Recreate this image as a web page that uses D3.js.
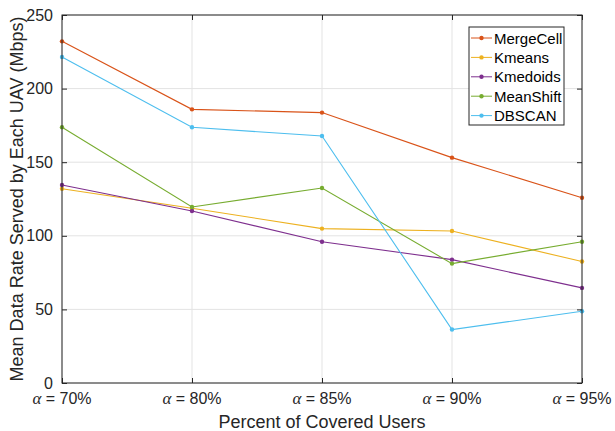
<!DOCTYPE html>
<html><head><meta charset="utf-8">
<script src="https://cdn.jsdelivr.net/npm/d3@7"></script>
<style>body{margin:0;background:#fff;} svg{display:block;}</style>
</head><body>
<svg id="chart" width="615" height="431"></svg>
<script>
const categories = ["70%", "80%", "85%", "90%", "95%"];
const seriesNames = ["MergeCell", "Kmeans", "Kmedoids", "MeanShift", "DBSCAN"];
const mergeCell = [232.1, 185.9, 183.7, 153.1, 125.9];
const kmeans    = [132.0, 118.7, 104.9, 103.3, 82.5];
const kmedoids  = [134.5, 116.8, 96.0, 83.8, 64.6];
const meanShift = [173.7, 119.6, 132.5, 81.1, 96.0];
const dbscan    = [221.5, 173.7, 167.8, 36.3, 48.7];
const yTicks = [0, 50, 100, 150, 200, 250];
const colors = ["#D95319", "#EDB120", "#7E2F8E", "#77AC30", "#4DBEEE"];
const allSeries = [mergeCell, kmeans, kmedoids, meanShift, dbscan];

const svg = d3.select("#chart");
const L = 62, R = 582, T = 15, B = 383;
const x = d3.scalePoint().domain(categories).range([L, R]);
const y = d3.scaleLinear().domain([0, 250]).range([B, T]);
const font = "'Liberation Sans', Arial, Helvetica, sans-serif";
const axisColor = "#262626";

// grid
const g = svg.append("g");
g.selectAll(".gx").data(categories).enter().append("line")
  .attr("x1", d => x(d)).attr("x2", d => x(d)).attr("y1", T).attr("y2", B)
  .attr("stroke", "#e3e3e3").attr("stroke-width", 1);
g.selectAll(".gy").data(yTicks).enter().append("line")
  .attr("x1", L).attr("x2", R).attr("y1", d => y(d)).attr("y2", d => y(d))
  .attr("stroke", "#e3e3e3").attr("stroke-width", 1);

// lines
const line = d3.line().x((d, i) => x(categories[i])).y(d => y(d));
allSeries.forEach((s, k) => {
  svg.append("path").datum(s).attr("d", line).attr("fill", "none")
    .attr("stroke", colors[k]).attr("stroke-width", 1.1);
  svg.selectAll(".p" + k).data(s).enter().append("circle")
    .attr("cx", (d, i) => x(categories[i])).attr("cy", d => y(d)).attr("r", 2.2)
    .attr("fill", colors[k]);
});

// axes via d3
const axB = d3.axisBottom(x).tickSize(-5).tickFormat("");
const axT = d3.axisTop(x).tickSize(-5).tickFormat("");
const axLft = d3.axisLeft(y).tickValues(yTicks).tickSize(-5).tickPadding(9);
const axRgt = d3.axisRight(y).tickValues(yTicks).tickSize(-5).tickFormat("");
function style(sel) {
  sel.select(".domain").remove();
  sel.selectAll("line").attr("stroke", axisColor);
  sel.selectAll("text").attr("fill", axisColor).style("font-family", font).style("font-size", "16px");
}
svg.append("g").attr("transform", `translate(0,${B})`).call(axB).call(style);
svg.append("g").attr("transform", `translate(0,${T})`).call(axT).call(style);
svg.append("g").attr("transform", `translate(${L},0)`).call(axLft).call(style);
svg.append("g").attr("transform", `translate(${R},0)`).call(axRgt).call(style);

// box
svg.append("rect").attr("x", L).attr("y", T).attr("width", R - L).attr("height", B - T)
  .attr("fill", "none").attr("stroke", axisColor).attr("stroke-width", 1);

// x tick labels
const xl = svg.append("g");
categories.forEach(c => {
  const t = xl.append("text").attr("x", x(c)).attr("y", 404).attr("text-anchor", "middle")
    .attr("fill", axisColor).style("font-family", font).style("font-size", "16px");
  t.append("tspan").text("α").style("font-family", "'Liberation Serif', 'Times New Roman', serif").style("font-style", "italic").style("font-size", "17px");
  t.append("tspan").text(" = " + c);
});

// axis titles
svg.append("text").attr("x", (L + R) / 2).attr("y", 428).attr("text-anchor", "middle")
  .attr("fill", axisColor).style("font-family", font).style("font-size", "18px")
  .text("Percent of Covered Users");
svg.append("text").attr("transform", `translate(23,${(T + B) / 2}) rotate(-90)`)
  .attr("text-anchor", "middle").attr("fill", axisColor)
  .style("font-family", font).style("font-size", "18px")
  .text("Mean Data Rate Served by Each UAV (Mbps)");

// legend
const lx = 469, ly = 27, lw = 95, lh = 98;
const lg = svg.append("g");
lg.append("rect").attr("x", lx).attr("y", ly).attr("width", lw).attr("height", lh)
  .attr("fill", "#fff").attr("stroke", axisColor).attr("stroke-width", 1);
seriesNames.forEach((n, k) => {
  const yy = ly + 11 + k * 19.4;
  lg.append("line").attr("x1", lx + 2).attr("x2", lx + 23).attr("y1", yy).attr("y2", yy)
    .attr("stroke", colors[k]).attr("stroke-width", 1);
  lg.append("circle").attr("cx", lx + 12.5).attr("cy", yy).attr("r", 2.2).attr("fill", colors[k]);
  lg.append("text").attr("x", lx + 25).attr("y", yy + 5.5).attr("fill", "#000")
    .style("font-family", font).style("font-size", "15px").text(n);
});
</script>
</body></html>
